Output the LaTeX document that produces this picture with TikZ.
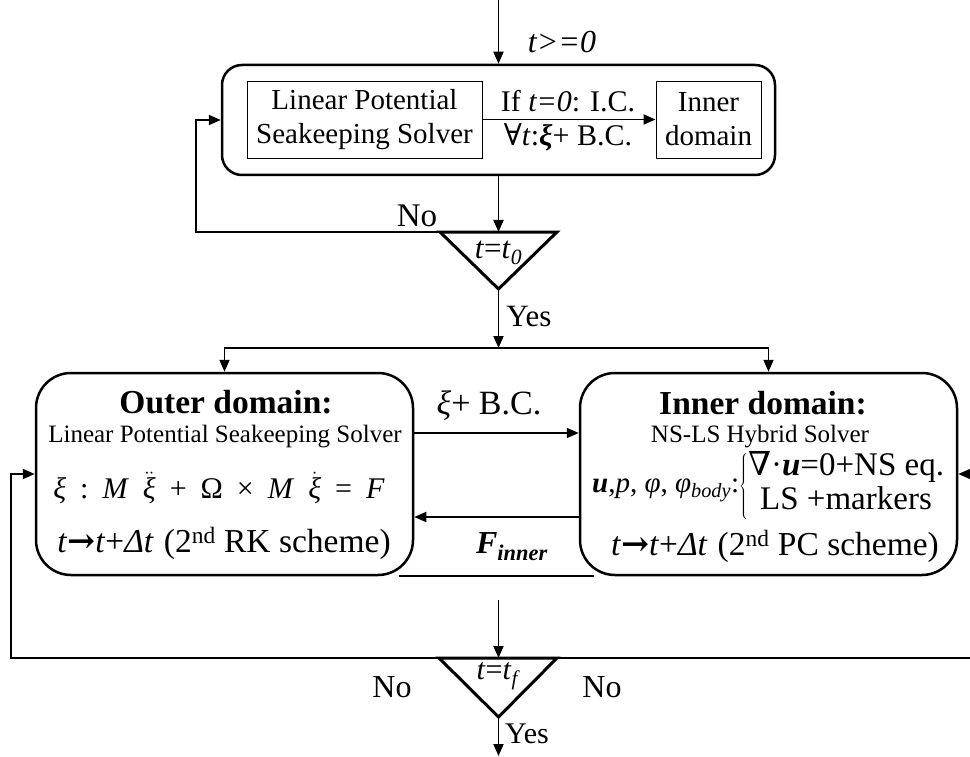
\documentclass[tikz,border=0pt]{standalone}
\usepackage{fontspec}
\setmainfont{Liberation Serif}
\newfontfamily\symf{DejaVu Serif}
\usetikzlibrary{arrows.meta}
\newcommand\fsz[2]{\fontsize{#1}{#2}\selectfont}
\newcommand\gp{\hspace{14pt}}
\newcommand\xidd{$\ddot{\hbox{\itshape ξ}}$}
\newcommand\xid{$\dot{\hbox{\itshape ξ}}$}
\begin{document}
\begin{tikzpicture}[x=1pt,y=-1pt,
  rbox/.style={draw, line width=2.5pt, rounded corners=20pt, inner sep=0pt},
  bigbox/.style={draw, line width=2.5pt, rounded corners=35pt, inner sep=0pt,
                 minimum width=377pt, minimum height=202pt},
  thinbox/.style={draw, line width=0.9pt, inner sep=0pt, minimum height=77pt,
                  align=center, font=\fsz{29}{34}},
  conn/.style={line width=1.8pt, -{Triangle[length=12pt,width=10pt]}},
  plainline/.style={line width=1.8pt},
  tri/.style={line width=3pt, line join=miter},
  lab/.style={inner sep=0pt, font=\fsz{30}{34}},
  txt/.style={inner sep=0pt}
]
\useasboundingbox (0,0) rectangle (970,757);
\clip (0,0) rectangle (970,757);

% ---------- top block ----------
\node[rbox, minimum width=553pt, minimum height=110pt] (top) at (498.5,120) {};
\node[thinbox, minimum width=235pt] (lps) at (364.5,119.5) {Linear Potential\\Seakeeping Solver};
\node[thinbox, minimum width=105pt] (idom) at (708.5,119.5) {Inner\\domain};
\draw[conn] (lps.east) -- (idom.west);
\node[lab] (ic) at (568,101) {If \textit{t=0}: I.C.};
\node[lab] (bc) at (568,137) {{\symf ∀}\textit{t}:\textbf{\textit{ξ}}+ B.C.};

\coordinate (start) at (498.5,0);
\draw[conn] (start) -- (top.north);
\node[lab, font=\fsz{32}{34}\itshape] (tge) at (562,42) {t>=0};

% ---------- first decision ----------
\coordinate (t0L) at (440,232);
\coordinate (t0R) at (557,232);
\coordinate (t0B) at (498.5,289);
\coordinate (t0T) at (498.5,232);
\draw[tri] (t0L) -- (t0R) -- (t0B) -- cycle;
\node[lab, font=\fsz{31}{34}] (t0txt) at (498.5,253) {\textit{t}=\textit{t}\textsubscript{\textit{0}}};
\draw[conn] (top.south) -- (t0T);
\coordinate (fb1) at (196,232);
\draw[conn] (t0L) -- (fb1) |- (top.west);
\node[lab, font=\fsz{33}{34}] (no1) at (417,216) {No};
\coordinate (split) at (498.5,348);
\draw[conn] (t0B) -- (split);
\node[lab, font=\fsz{31}{34}] (yes1) at (529,317) {Yes};

% ---------- domain boxes ----------
\node[bigbox] (outer) at (224.5,474) {};
\node[bigbox] (inner) at (768.5,474) {};
\draw[conn] (split) -| (outer.north);
\draw[conn] (split) -| (inner.north);

\node[txt, font=\fsz{33.5}{36}\bfseries] (od) at (226,402) {Outer domain:};
\node[txt, font=\fsz{25}{30}] (olp) at (225,437) {Linear Potential Seakeeping Solver};
\node[txt, font=\fsz{30}{34}] (oeq) at (219,488)
  {\textit{ξ}\gp:\gp\textit{M}\gp\xidd\gp+\gp Ω\gp×\gp\textit{M}\gp\xid\gp=\gp\textit{F}};
\node[txt, font=\fsz{33.5}{36}] (ort) at (224,543)
  {\textit{t}{\symf\bfseries →}\textit{t}+\textit{Δt}\hspace{10pt}(2\textsuperscript{nd} RK scheme)};

\node[txt, font=\fsz{33.5}{36}\bfseries] (idn) at (763,403) {Inner domain:};
\node[txt, font=\fsz{25}{30}] (ins) at (760,437) {NS-LS Hybrid Solver};
\node[txt, font=\fsz{29}{32}, anchor=west] (ieq) at (592,486)
  {\textbf{\textit{u}},\textit{p}, \textit{φ}, \textit{φ}\textsubscript{\textit{body}}:$\left\{\vcenter{\hbox{\fsz{33}{34}\begin{tabular}{@{}c@{}}{\symf ∇}·\textbf{\textit{u}}=0+NS eq.\\ LS +markers\end{tabular}}}\right.$};
\node[txt, font=\fsz{33.5}{36}] (irt) at (775,546)
  {\textit{t}{\symf\bfseries →}\textit{t}+\textit{Δt}\hspace{10pt}(2\textsuperscript{nd} PC scheme)};

\draw[conn] ([yshift=41pt]outer.east) -- ([yshift=41pt]inner.west);
\draw[conn] ([yshift=-43pt]inner.west) -- ([yshift=-43pt]outer.east);
\node[lab, font=\fsz{34}{36}] (xbc) at (489,406) {\textit{ξ}+ B.C.};
\node[lab, font=\fsz{32}{36}] (fin) at (512,547) {\textbf{\textit{F}}\textsubscript{\textbf{\textit{inner}}}};
\draw[plainline] ([xshift=-15pt]outer.south east) -- ([xshift=15pt]inner.south west);

% ---------- final decision ----------
\coordinate (mtop) at (498.5,600);
\coordinate (tfL) at (439,658);
\coordinate (tfR) at (557,658);
\coordinate (tfB) at (498.5,717);
\coordinate (tfT) at (498.5,658);
\draw[tri] (tfL) -- (tfR) -- (tfB) -- cycle;
\node[lab, font=\fsz{30}{34}] (tftxt) at (498.5,676) {\textit{t}=\textit{t}\textsubscript{\textit{f}}};
\draw[conn] (mtop) -- (tfT);
\coordinate (lb) at (11,658);
\draw[conn] (tfL) -- (lb) |- (outer.west);
\coordinate (rb) at (985,658);
\draw[conn] (tfR) -- (rb) |- (inner.east);
\coordinate (endpt) at (498.5,756);
\draw[conn] (tfB) -- (endpt);
\node[lab, font=\fsz{32}{34}] (no2) at (392,687) {No};
\node[lab, font=\fsz{32}{34}] (no3) at (602,687) {No};
\node[lab, font=\fsz{30}{34}] (yes2) at (527,734) {Yes};
\end{tikzpicture}
\end{document}
